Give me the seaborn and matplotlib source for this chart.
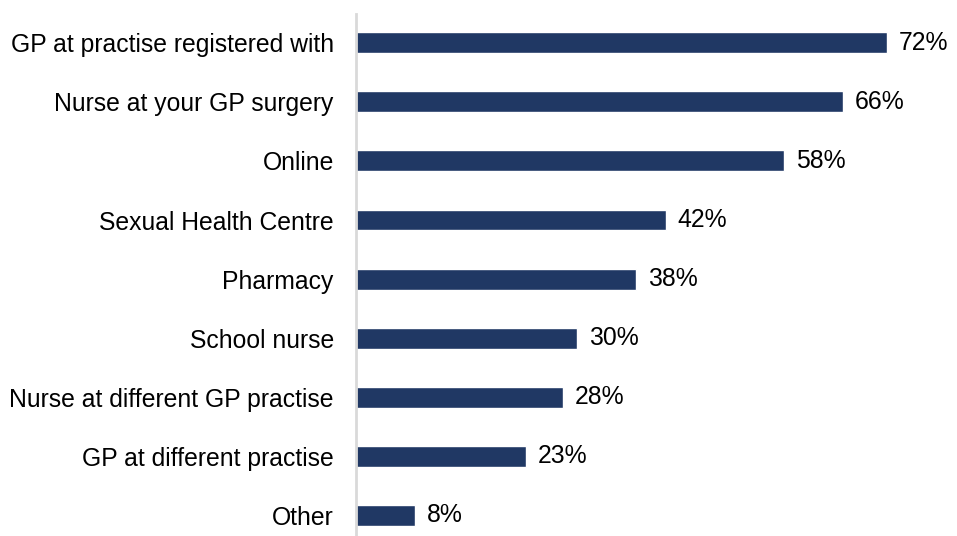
import matplotlib
matplotlib.use("Agg")
import matplotlib.pyplot as plt
import seaborn as sns
import pandas as pd

categories = [
    "GP at practise registered with",
    "Nurse at your GP surgery",
    "Online",
    "Sexual Health Centre",
    "Pharmacy",
    "School nurse",
    "Nurse at different GP practise",
    "GP at different practise",
    "Other",
]
values = [72, 66, 58, 42, 38, 30, 28, 23, 8]

df = pd.DataFrame({"place": categories, "pct": values})

sns.set_theme(style="white")
plt.rcParams["font.family"] = ["Liberation Sans", "DejaVu Sans"]

fig = plt.figure(figsize=(9.57, 5.36), dpi=100)
ax = fig.add_axes([356 / 957, 0.0, 590 / 957, 522 / 536])

sns.barplot(data=df, x="pct", y="place", orient="h", color="#203864",
            saturation=1, width=0.355, ax=ax)

ax.set_xlim(0, 80)
ax.set_ylim(8.35, -0.488)
ax.set_xlabel("")
ax.set_ylabel("")
ax.set_xticks([])
ax.tick_params(axis="y", length=0, pad=16, labelsize=17.8, labelcolor="black")

for s in ["top", "right", "bottom"]:
    ax.spines[s].set_visible(False)
ax.spines["left"].set_color("#D9D9D9")
ax.spines["left"].set_linewidth(2)

for i, v in enumerate(values):
    ax.annotate(f"{v}%", xy=(v, i), xytext=(8.5, 0), textcoords="offset points",
                va="center", ha="left", fontsize=17.8, color="black",
                annotation_clip=False)

fig.savefig("out.png", dpi=100)
